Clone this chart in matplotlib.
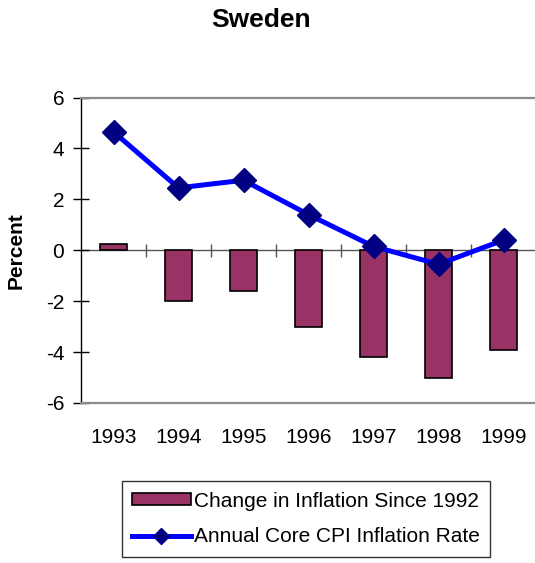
import numpy as np
import matplotlib.pyplot as plt
from matplotlib.patches import Patch
from matplotlib.lines import Line2D

plt.rcParams['font.family'] = ['Liberation Sans', 'DejaVu Sans']

years = ['1993', '1994', '1995', '1996', '1997', '1998', '1999']
change_since_1992 = [0.25, -2.0, -1.6, -3.0, -4.2, -5.0, -3.9]
core_cpi = [4.65, 2.45, 2.75, 1.4, 0.15, -0.55, 0.4]
yticks = [-6, -4, -2, 0, 2, 4, 6]

bar_color = '#993366'
line_color = '#0000ff'
marker_color = '#000080'
frame_gray = '#8c8c8c'

fig = plt.figure(figsize=(5.35, 5.63), dpi=100)
ax = fig.add_axes([81 / 535, 160 / 563, 455 / 535, 305.5 / 563])

x = np.arange(len(years))
ax.bar(x, change_since_1992, width=0.42, color=bar_color, edgecolor='black',
       linewidth=1.2, zorder=2)

# horizontal axis line at zero with category separator ticks
ax.axhline(0, color='#555555', lw=1.0, zorder=1)
bounds = x[:-1] + 0.5
ax.vlines(bounds, -0.25, 0.25, color='#555555', lw=1.0, zorder=1)

ax.plot(x, core_cpi, color=line_color, lw=3.6, marker='D', markersize=12,
        markerfacecolor=marker_color, markeredgecolor=marker_color, zorder=3)

ax.set_xlim(-0.5, len(years) - 0.5)
ax.set_ylim(-6, 6)
ax.set_yticks(yticks)
ax.set_yticklabels([str(v) for v in yticks])
ax.set_xticks(x)
ax.set_xticklabels(years)

ax.tick_params(axis='y', direction='inout', length=12, width=1.0, color='black',
               labelsize=15, pad=6)
ax.tick_params(axis='x', length=0, labelsize=15, pad=18)

ax.spines['left'].set_color('black')
ax.spines['left'].set_linewidth(1.0)
for s in ['top', 'bottom']:
    ax.spines[s].set_color(frame_gray)
    ax.spines[s].set_linewidth(1.6)
ax.spines['right'].set_visible(False)

ax.set_ylabel('Percent', fontsize=15, fontweight='bold')
ax.yaxis.set_label_coords(-0.122, 0.5)

fig.text(261 / 535, 1 - 20 / 563, 'Sweden', fontsize=19, fontweight='bold',
         ha='center', va='center')

handles = [
    Patch(facecolor=bar_color, edgecolor='black', linewidth=1.2),
    Line2D([0], [0], color=line_color, lw=3.6, marker='D', markersize=8,
           markerfacecolor=marker_color, markeredgecolor=marker_color),
]
labels = ['Change in Inflation Since 1992', 'Annual Core CPI Inflation Rate']
leg = fig.legend(handles, labels, loc='center',
                 bbox_to_anchor=(306 / 535, 1 - 519 / 563),
                 fontsize=15, frameon=True, fancybox=False, edgecolor='black',
                 handlelength=2.8, handleheight=0.5, handletextpad=0.15,
                 labelspacing=0.8, borderpad=0.5, borderaxespad=0)
leg.get_frame().set_linewidth(1.0)

fig.savefig('out.png', dpi=100)
